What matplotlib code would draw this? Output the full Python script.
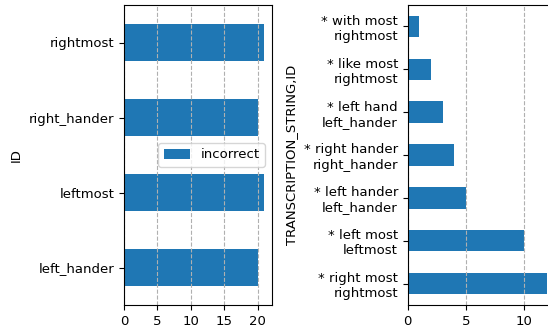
import matplotlib
matplotlib.use("Agg")
import matplotlib.pyplot as plt
from matplotlib.ticker import MultipleLocator

plt.rcParams["font.size"] = 9.5

# Incorrect counts per target word
ids = ["left_hander", "leftmost", "right_hander", "rightmost"]
incorrect = [20, 21, 20, 21]

# Counts per (transcription string, target word)
transcriptions = [
    "* right most\nrightmost",
    "* left most\nleftmost",
    "* left hander\nleft_hander",
    "* right hander\nright_hander",
    "* left hand\nleft_hander",
    "* like most\nrightmost",
    "* with most\nrightmost",
]
transcription_counts = [12, 10, 5, 4, 3, 2, 1]

W, H = 548, 333
fig = plt.figure(figsize=(W / 100, H / 100), dpi=100)

bottom = (H - 305) / H
height = 300 / H
ax1 = fig.add_axes([124 / W, bottom, 147.5 / W, height])
ax2 = fig.add_axes([407.7 / W, bottom, 146.5 / W, height])

blue = "#1f77b4"

ax1.barh(range(len(ids)), incorrect, height=0.5, color=blue, label="incorrect", zorder=1)
ax1.set_yticks(range(len(ids)))
ax1.set_yticklabels(ids)
ax1.set_ylim(-0.5, len(ids) - 0.5)
ax1.xaxis.set_major_locator(MultipleLocator(5))
ax1.set_ylabel("ID")
ax1.grid(axis="x", linestyle="--")
ax1.legend(loc="center right")

ax2.barh(range(len(transcriptions)), transcription_counts, height=0.5, color=blue, zorder=1)
ax2.set_yticks(range(len(transcriptions)))
ax2.set_yticklabels(transcriptions)
ax2.set_ylim(-0.5, len(transcriptions) - 0.5)
ax2.xaxis.set_major_locator(MultipleLocator(5))
ax2.set_ylabel("TRANSCRIPTION_STRING,ID")
ax2.grid(axis="x", linestyle="--")

fig.savefig("out.png", dpi=100)
